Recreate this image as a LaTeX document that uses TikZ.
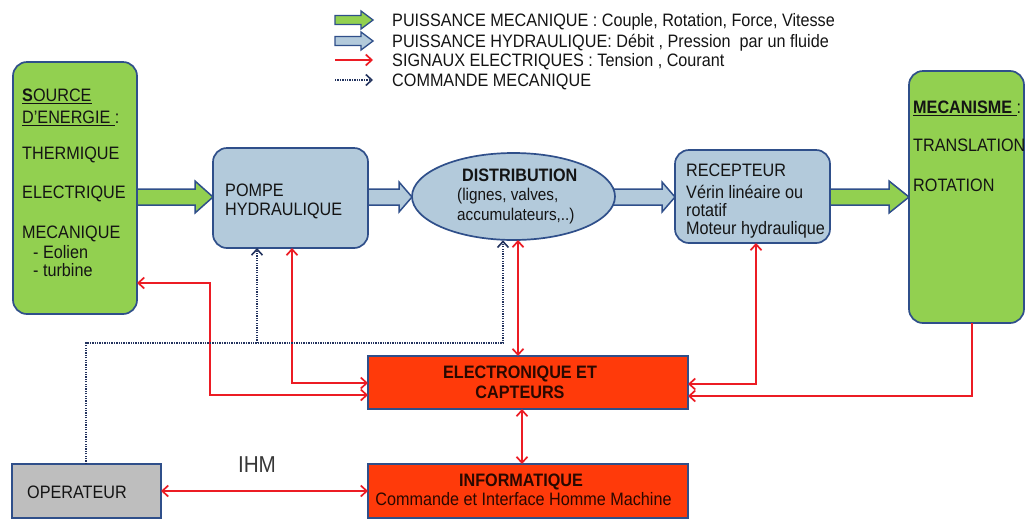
\documentclass[tikz,border=0pt]{standalone}
\usepackage{fontspec}
\setmainfont{Liberation Sans}[FakeStretch=0.9]
\usetikzlibrary{arrows.meta,shapes.geometric,calc,backgrounds}
\definecolor{gfill}{HTML}{92D050}
\definecolor{bline}{HTML}{2F4F8A}
\definecolor{lblue}{HTML}{B3CADB}
\definecolor{rfill}{HTML}{FF3A0A}
\definecolor{rline}{HTML}{EC1C24}
\definecolor{ofill}{HTML}{BEBEBE}
\definecolor{navy}{HTML}{23335E}
\definecolor{tcol}{HTML}{141414}
\definecolor{ecol}{HTML}{2A0800}
\newcommand\fatarrow[6]{%
  \draw[#1] let \p1=(#2), \p2=(#3) in
    (\x1,\y1+#6) -- (\x2-#4,\y1+#6) -- (\x2-#4,\y1+#5) -- (\x2,\y1)
    -- (\x2-#4,\y1-#5) -- (\x2-#4,\y1-#6) -- (\x1,\y1-#6) -- cycle;}
\tikzset{
  box/.style={draw=bline, line width=1.7pt, inner sep=0pt, outer sep=0pt},
  gbox/.style={box, fill=gfill, rounded corners=14pt},
  bbox/.style={box, fill=lblue, rounded corners=14pt},
  rbox/.style={box, fill=rfill},
  obox/.style={box, fill=ofill},
  lbl/.style={inner sep=0pt, anchor=base west, text=tcol, font=\fontsize{18}{20}\selectfont},
  clbl/.style={lbl, anchor=base},
  sig/.style={draw=rline, line width=1.7pt},
  cmd/.style={draw=navy, line width=1.6pt, dash pattern=on 1.3pt off 1.1pt},
  garrow/.style={draw=bline, line width=1.5pt, fill=gfill, line join=miter},
  barrow/.style={draw=bline, line width=1.5pt, fill=lblue, line join=miter},
  >={Straight Barb[length=6pt,width=11pt]}
}
\begin{document}
\begin{tikzpicture}[x=1pt,y=-1pt]
\useasboundingbox (0,0) rectangle (1027,520);

% boxes
\node[gbox, minimum width=124pt, minimum height=252pt] (src) at (75,188) {};
\node[bbox, minimum width=155pt, minimum height=100pt] (pompe) at (290.5,198) {};
\node[box, ellipse, fill=lblue, minimum width=203pt, minimum height=87pt] (dist) at (513.5,196.5) {};
\node[bbox, minimum width=155pt, minimum height=93pt] (rec) at (752.5,196.5) {};
\node[gbox, minimum width=115pt, minimum height=252pt] (mec) at (966.5,197) {};
\node[rbox, minimum width=320pt, minimum height=53pt] (elec) at (528,382.5) {};
\node[rbox, minimum width=320pt, minimum height=54pt] (info) at (528,491) {};
\node[obox, minimum width=149pt, minimum height=54pt] (oper) at (86.5,491) {};

% fat arrows (behind the boxes)
\begin{scope}[on background layer]
\fatarrow{garrow}{src.east |- 0,197}{pompe.west |- 0,197}{18pt}{16pt}{8pt}
\fatarrow{barrow}{pompe.east |- 0,197}{dist.west |- 0,197}{13pt}{15pt}{8pt}
\coordinate (de) at ($(dist.east)+(-6,0)$);
\fatarrow{barrow}{de |- 0,197}{rec.west |- 0,197}{13pt}{15pt}{8pt}
\fatarrow{garrow}{rec.east |- 0,197}{mec.west |- 0,197}{20pt}{16pt}{8pt}
\end{scope}

% texts
\node[lbl] (s1) at (22,101.5) {\underline{\textbf{S}OURCE}};
\node[lbl] (s2) at (22,123.5) {\underline{D’ENERGIE }:};
\node[lbl] (s3) at (22,159.5) {THERMIQUE};
\node[lbl] (s4) at (22,198.5) {ELECTRIQUE};
\node[lbl] (s5) at (22,238.5) {MECANIQUE};
\node[lbl] (s6) at (33,258) {- Eolien};
\node[lbl] (s7) at (33,276) {- turbine};

\node[lbl] (p1) at (225,196.5) {POMPE};
\node[lbl] (p2) at (225,215.5) {HYDRAULIQUE};

\node[lbl] (d1t) at (462,181.5) {\textbf{DISTRIBUTION}};
\node[lbl, font=\fontsize{17}{19}\selectfont] (d2t) at (457,200.5) {(lignes, valves,};
\node[lbl, font=\fontsize{17}{19}\selectfont] (d3t) at (457,220.5) {accumulateurs,..)};

\node[lbl] (r1) at (686,176.5) {RECEPTEUR};
\node[lbl] (r2) at (686,198) {Vérin linéaire ou};
\node[lbl] (r3) at (686,216.5) {rotatif};
\node[lbl] (r4) at (686,234.5) {Moteur hydraulique};

\node[lbl] (m1) at (913,113.5) {\underline{\textbf{MECANISME }}:};
\node[lbl] (m2) at (913,151.5) {TRANSLATION};
\node[lbl] (m3) at (913,191.5) {ROTATION};

\node[clbl, text=ecol] (e1) at (520,378.5) {\textbf{ELECTRONIQUE ET}};
\node[clbl, text=ecol] (e2) at (520,398.5) {\textbf{CAPTEURS}};
\node[clbl, text=ecol] (i1) at (521,486.5) {\textbf{INFORMATIQUE}};
\node[clbl, text=ecol] (i2) at (523.5,505.5) {Commande et Interface Homme Machine};
\node[lbl] (o1) at (27,498.5) {OPERATEUR};
\node[clbl, font=\fontsize{23}{25}\selectfont, text=tcol!85] (ihm) at (257,472.5) {IHM};

% legend
\coordinate (la1) at (335,20); \coordinate (lb1) at (373,20);
\coordinate (la2) at (335,41); \coordinate (lb2) at (373,41);
\coordinate (la3) at (335,60); \coordinate (lb3) at (373,60);
\coordinate (la4) at (335,80); \coordinate (lb4) at (373,80);
\fatarrow{garrow,line width=1.3pt}{la1}{lb1}{12pt}{9pt}{4.5pt}
\fatarrow{barrow,line width=1.3pt}{la2}{lb2}{12pt}{9pt}{4.5pt}
\draw[sig,->] (la3) -- (lb3);
\draw[cmd,->] (la4) -- (lb4);
\node[lbl] (t1) at (392,26.5) {PUISSANCE MECANIQUE : Couple, Rotation, Force, Vitesse};
\node[lbl] (t2) at (392,47.5) {PUISSANCE HYDRAULIQUE: Débit , Pression\ \ par un fluide};
\node[lbl] (t3) at (392,66.5) {SIGNAUX ELECTRIQUES : Tension , Courant};
\node[lbl] (t4) at (392,86.5) {COMMANDE MECANIQUE};

% red signal connectors
\coordinate (k1) at (210,283); \coordinate (k2) at (210,395);
\draw[sig,<->] (k1 -| src.east) -- (k1) -- (k2) -- (k2 -| elec.west);
\coordinate (k3) at (292,383);
\draw[sig,<->] (k3 |- pompe.south) -- (k3) -- (k3 -| elec.west);
\coordinate (k4) at (518,300);
\draw[sig,<->] (k4 |- dist.south) -- (k4 |- elec.north);
\coordinate (k5) at (756,384);
\draw[sig,<->] (k5 |- rec.south) -- (k5) -- (k5 -| elec.east);
\coordinate (k6) at (972,396);
\draw[sig,->] (k6 |- mec.south) -- (k6) -- (k6 -| elec.east);
\coordinate (k7) at (522,430);
\draw[sig,<->] (k7 |- elec.south) -- (k7 |- info.north);
\draw[sig,<->] (oper.east) -- (oper.east -| info.west);

% mechanical command (dotted)
\coordinate (c1) at (86,343); \coordinate (c2) at (503,343); \coordinate (c3) at (257,343);
\draw[cmd,->] (c1 |- oper.north) -- (c1) -- (c2) -- ($(c2 |- dist.south)+(0,0.3)$);
\draw[cmd,->] (c3) -- (c3 |- pompe.south);
\end{tikzpicture}
\end{document}
